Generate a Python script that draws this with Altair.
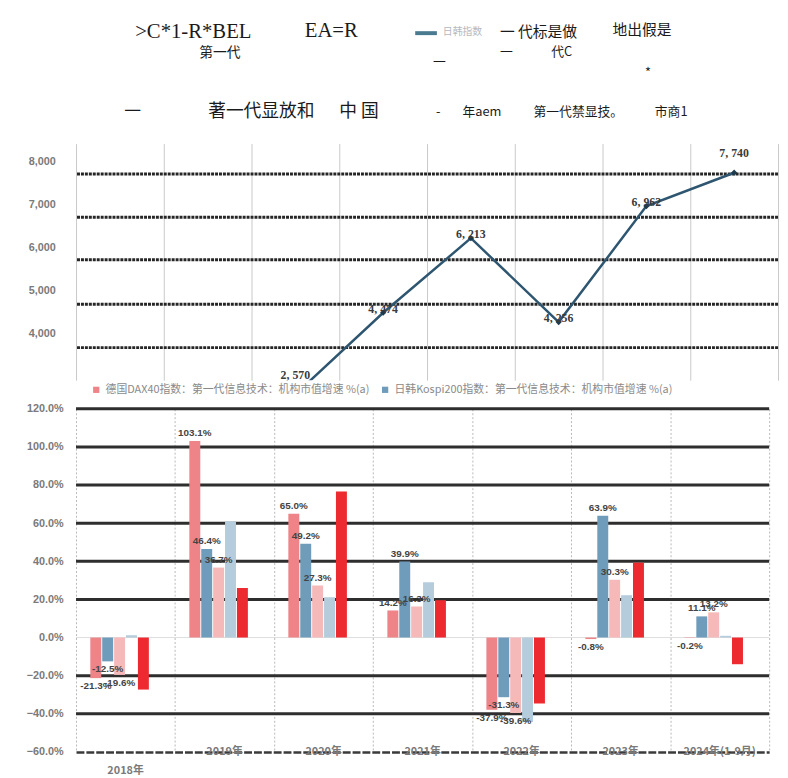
import altair as alt
import pandas as pd

# ---------------- data ----------------
line_years = ["2016年", "2017年", "2018年", "2019年", "2020年", "2021年", "2022年", "2023年"]
line_point_years = ["2018年", "2019年", "2020年", "2021年", "2022年", "2023年"]
line_values = [2570, 4474, 6213, 4256, 6962, 7740]
line_labels = ["2, 570", "4, 474", "6, 213", "4, 256", "6, 962", "7, 740"]
line_ticks = [4000, 5000, 6000, 7000, 8000]
line_grid_levels = [7710, 6700, 5710, 4670, 3660]

bar_categories = ["2018年", "2019年", "2020年", "2021年", "2022年", "2023年", "2024年(1-9月)"]
series_names = [
    "德国DAX40指数：第一代信息技术：机构市值增速 %(a)",
    "日韩Kospi200指数：第一代信息技术：机构市值增速 %(a)",
    "美国标普500指数：第一代信息技术：机构市值增速 %(a)",
    "中国沪深300指数：第一代信息技术：机构市值增速 %(a)",
    "全球MSCI指数：第一代信息技术：机构市值增速 %(a)",
]
s1 = [-21.3, 103.1, 65.0, 14.2, -37.9, -0.8, -0.2]
s2 = [-12.5, 46.4, 49.2, 39.9, -31.3, 63.9, 11.1]
s3 = [-19.6, 36.7, 27.3, 16.3, -39.6, 30.3, 13.2]
s4 = [1.2, 61.0, 21.2, 29.0, -44.3, 22.2, 0.9]
s5 = [-27.3, 26.0, 76.6, 19.6, -34.6, 39.3, -14.0]
labelled_series = [True, True, True, False, False]
bar_colors = ["#EE8388", "#6F9CBA", "#F6B9BA", "#B5CCDC", "#EC2A30"]
bar_ticks = [-60, -40, -20, 0, 20, 40, 60, 80, 100, 120]
bar_grid_levels = [120, 100, 80, 60, 40, 20, -20, -40]
# empty slots in each year's group (left gap one slot, right gap two slots)
offset_slots = ["_gap_l"] + series_names + ["_gap_r1", "_gap_r2"]

# ---------------- tables ----------------
pts = pd.DataFrame({"year": line_point_years, "value": line_values, "label": line_labels})
pts["end"] = [i == 0 or i == len(pts) - 1 for i in range(len(pts))]

rows = []
for si, (name, vals) in enumerate(zip(series_names, [s1, s2, s3, s4, s5])):
    for c, v in zip(bar_categories, vals):
        lab = (f"{v:.1f}%" if labelled_series[si] else "")
        rows.append({"category": c, "series": name, "value": v, "label": lab})
bars_df = pd.DataFrame(rows)
xl = pd.DataFrame({"category": bar_categories})
xl["first"] = [i == 0 for i in range(len(xl))]

W_TOP, H_TOP = 712, 240
W_BOT, H_BOT = 703, 348
SERIF = "Liberation Serif"
SANS = "Liberation Sans"
CJK = "Noto Sans CJK SC"

# ---------------- header (placed above the line chart) ----------------
OX, OY = 68, 140  # page position of the line chart's plot origin


def htext(t, px, py, size, font, color="#1a1a1a"):
    return alt.Chart(pd.DataFrame({"t": [t]})).mark_text(
        align="left", baseline="middle", font=font, fontSize=size, color=color
    ).encode(x=alt.value(px - OX), y=alt.value(py - OY), text="t:N")


header = [
    htext(">C*1-R*BEL", 128, 27, 21, SERIF),
    htext("EA=R", 300, 26, 21, SERIF),
    htext("日韩指数", 440, 27, 10, CJK, "#b4b8c0"),
    htext("一 代标是做", 498, 27, 15, CJK),
    htext("地出假是", 612, 25, 15, CJK),
    htext("第一代", 193, 48, 14, CJK),
    htext("一", 498, 47, 13, CJK),
    htext("代C", 550, 47, 13, CJK),
    htext("一", 430, 57, 13, CJK),
    htext("*", 645, 68, 13, CJK),
    htext("一", 117, 108, 17, CJK),
    htext("著一代显放和", 202, 108, 18, CJK),
    htext("中 国", 335, 108, 18, CJK),
    htext("-", 433, 108, 13, CJK),
    htext("年aem", 460, 108, 13, CJK),
    htext("第一代禁显技。", 532, 108, 13, CJK),
    htext("市商1", 655, 108, 13, CJK),
]
icon = alt.Chart(pd.DataFrame({"a": [0]})).mark_rule(color="#4A7A90", strokeWidth=4).encode(
    x=alt.value(412 - OX), x2=alt.value(434 - OX), y=alt.value(28 - OY)
)
anchor_top = alt.Chart(pd.DataFrame({"a": [0]})).mark_rule(strokeOpacity=0).encode(
    x=alt.value(0), y=alt.value(8 - OY), y2=alt.value(9 - OY)
)
anchor_bottom = alt.Chart(pd.DataFrame({"a": [0]})).mark_rule(strokeOpacity=0).encode(
    x=alt.value(0), y=alt.value(H_TOP), y2=alt.value(H_TOP + 4)
)

# ---------------- line chart ----------------
xs_top = alt.Scale(domain=line_years, paddingInner=0, paddingOuter=0)
ys_top = alt.Scale(domain=[2900, 8420], nice=False, zero=False)
x_axis_top = alt.Axis(labels=False, ticks=False, domain=False, grid=True, gridColor="#c9c9c9",
                      gridWidth=1, tickBand="extent", title=None)
y_axis_top = alt.Axis(values=line_ticks, labelExpr="format(datum.value, ',')", labelColor="#7a7a7a",
                      labelFontSize=11, labelFont=SANS, labelFontWeight="bold", grid=False,
                      domain=False, ticks=False, labelPadding=21, title=None,
                      minExtent=60, maxExtent=60)

grid_top = alt.Chart(pd.DataFrame({"level": line_grid_levels})).mark_rule(
    color="#262626", strokeWidth=3, strokeDash=[3, 1]
).encode(y=alt.Y("level:Q", scale=ys_top, axis=y_axis_top))

X_top = alt.X("year:N", scale=xs_top, axis=x_axis_top, sort=line_years)
Y_top = alt.Y("value:Q", scale=ys_top, axis=y_axis_top)
line = alt.Chart(pts).mark_line(color="#2E5670", strokeWidth=2.5, clip=True).encode(X_top, Y_top)
points = alt.Chart(pts).mark_point(filled=True, shape="diamond", size=40, color="#1E3A4E",
                                   opacity=1, clip=True).encode(X_top, Y_top)
lab_mid = alt.Chart(pts).transform_filter("!datum.end").mark_text(
    dy=-4, font=SERIF, fontWeight="bold", fontSize=12, color="#3a3a3a"
).encode(X_top, Y_top, text="label:N")
lab_end = alt.Chart(pts).transform_filter("datum.end").mark_text(
    dy=-20, font=SERIF, fontWeight="bold", fontSize=12, color="#3a3a3a"
).encode(X_top, Y_top, text="label:N")

top = alt.layer(grid_top, line, points, lab_mid, lab_end, icon, anchor_top, anchor_bottom,
                *header).properties(width=W_TOP, height=H_TOP)

# ---------------- bar chart ----------------
xs_bot = alt.Scale(domain=bar_categories, paddingInner=0, paddingOuter=0)
ys_bot = alt.Scale(domain=[-60, 120], nice=False)
x_axis_bot = alt.Axis(labels=False, ticks=False, domain=True, domainColor="#3a3a3a", domainWidth=2.5,
                      domainDash=[8, 2], grid=True, gridColor="#b8b8b8", gridDash=[2, 2], gridWidth=1,
                      tickBand="extent", title=None)
y_axis_bot = alt.Axis(values=bar_ticks, labelExpr="format(datum.value, '.1f') + '%'",
                      labelColor="#7a7a7a", labelFontSize=11, labelFont=SANS, labelFontWeight="bold",
                      grid=False, domain=False, ticks=False, labelPadding=13, title=None,
                      minExtent=69, maxExtent=69)
X_bot = alt.X("category:N", scale=xs_bot, axis=x_axis_bot, sort=bar_categories)
XO = alt.XOffset("series:N", scale=alt.Scale(domain=offset_slots, paddingInner=0.08,
                                             paddingOuter=0.2))
Y_bot = alt.Y("value:Q", scale=ys_bot, axis=y_axis_bot)

grid_bot = alt.Chart(pd.DataFrame({"level": bar_grid_levels})).mark_rule(
    color="#2e2e2e", strokeWidth=3
).encode(y=alt.Y("level:Q", scale=ys_bot, axis=y_axis_bot))
zero_line = alt.Chart(pd.DataFrame({"level": [0]})).mark_rule(color="#dddddd", strokeWidth=1).encode(
    y=alt.Y("level:Q", scale=ys_bot, axis=y_axis_bot))

bars = alt.Chart(bars_df).mark_bar().encode(
    x=X_bot, xOffset=XO, y=Y_bot,
    color=alt.Color("series:N", scale=alt.Scale(domain=series_names, range=bar_colors),
                    legend=alt.Legend(values=series_names[:2], orient="none", legendX=15, legendY=-25,
                                      direction="horizontal", title=None, symbolType="square",
                                      symbolSize=40, labelFontSize=11, labelFont=CJK,
                                      labelColor="#8a8a8a", labelLimit=400, padding=0,
                                      columnPadding=10)),
)
blab_pos = alt.Chart(bars_df).transform_filter("datum.label != '' && datum.value >= 0").mark_text(
    baseline="bottom", dy=-3, font=SANS, fontWeight="bold", fontSize=10, color="#444444"
).encode(x=X_bot, xOffset=XO, y=Y_bot, text="label:N")
blab_neg = alt.Chart(bars_df).transform_filter("datum.label != '' && datum.value < 0").mark_text(
    baseline="top", dy=3, font=SANS, fontWeight="bold", fontSize=10, color="#444444"
).encode(x=X_bot, xOffset=XO, y=Y_bot, text="label:N")

xlab_main = alt.Chart(xl).transform_filter("!datum.first").mark_text(
    baseline="middle", font=CJK, fontSize=11, fontWeight="bold", color="#7a7a7a"
).encode(x=X_bot, y=alt.value(H_BOT), text="category:N")
xlab_first = alt.Chart(xl).transform_filter("datum.first").mark_text(
    baseline="middle", dy=19, font=CJK, fontSize=11, fontWeight="bold", color="#7a7a7a"
).encode(x=X_bot, y=alt.value(H_BOT), text="category:N")

bottom = alt.layer(zero_line, grid_bot, bars, blab_pos, blab_neg, xlab_main, xlab_first).properties(
    width=W_BOT, height=H_BOT
)

chart = (
    alt.vconcat(top, bottom, spacing=0)
    .resolve_legend(color="independent")
    .properties(padding=0)
    .configure_view(stroke=None)
)

chart.save("out.html", embed_options={"renderer": "svg", "actions": False})
